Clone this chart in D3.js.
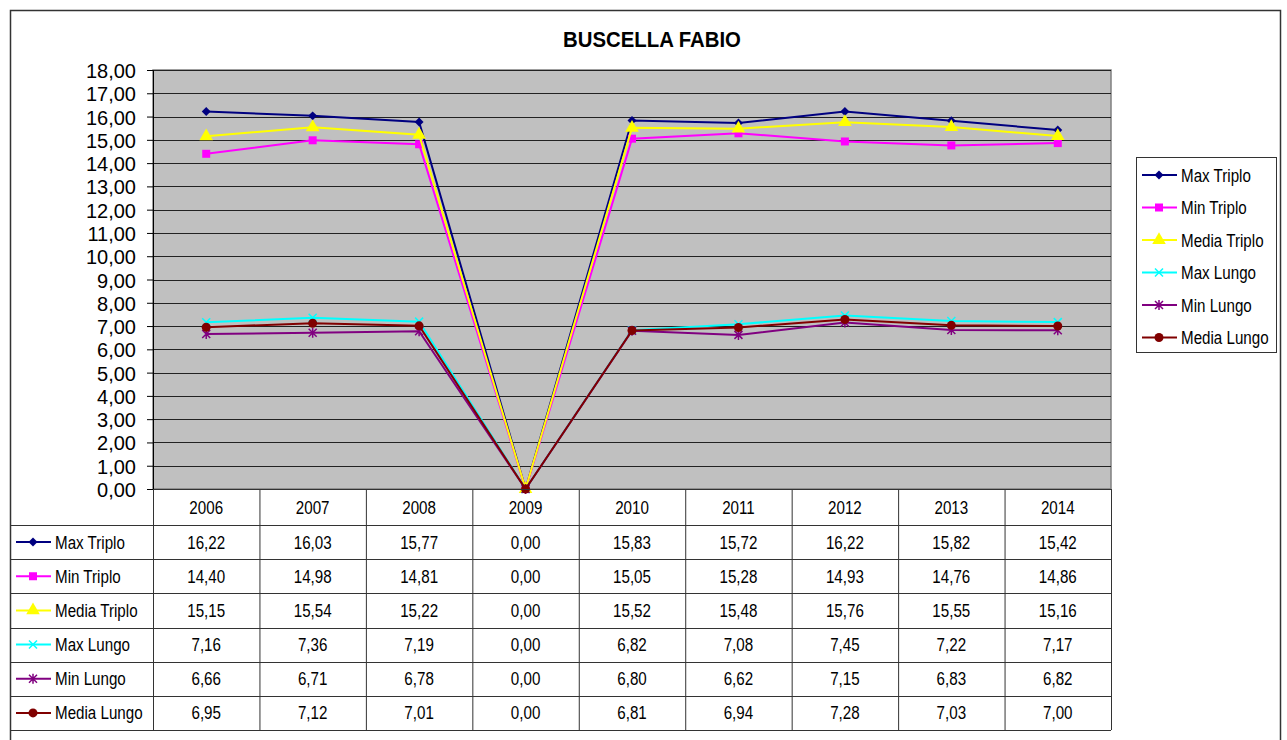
<!DOCTYPE html>
<html>
<head>
<meta charset="utf-8">
<script src="https://cdn.jsdelivr.net/npm/d3@7"></script>
<style>
  body { margin: 0; background: #fff; }
  text { font-family: "Liberation Sans", Arial, sans-serif; fill: #000; }
</style>
</head>
<body>
<div id="chart"></div>
<script>
const years = ["2006", "2007", "2008", "2009", "2010", "2011", "2012", "2013", "2014"];
const seriesNames = ["Max Triplo", "Min Triplo", "Media Triplo", "Max Lungo", "Min Lungo", "Media Lungo"];
const maxTriplo = [16.22, 16.03, 15.77, 0.00, 15.83, 15.72, 16.22, 15.82, 15.42];
const minTriplo = [14.40, 14.98, 14.81, 0.00, 15.05, 15.28, 14.93, 14.76, 14.86];
const mediaTriplo = [15.15, 15.54, 15.22, 0.00, 15.52, 15.48, 15.76, 15.55, 15.16];
const maxLungo = [7.16, 7.36, 7.19, 0.00, 6.82, 7.08, 7.45, 7.22, 7.17];
const minLungo = [6.66, 6.71, 6.78, 0.00, 6.80, 6.62, 7.15, 6.83, 6.82];
const mediaLungo = [6.95, 7.12, 7.01, 0.00, 6.81, 6.94, 7.28, 7.03, 7.00];
const yTicks = d3.range(0, 19, 1);

const colors = ["#000080", "#ff00ff", "#ffff00", "#00ffff", "#800080", "#800000"];
const markers = ["diamond", "square", "triangle", "x", "star", "circle"];
const series = seriesNames.map((name, i) => ({
  name,
  values: [maxTriplo, minTriplo, mediaTriplo, maxLungo, minLungo, mediaLungo][i],
  color: colors[i],
  marker: markers[i]
}));

const width = 1287, height = 740;
const plot = { left: 153, right: 1111, top: 70, bottom: 489 };
const tableBottom = 730;
const headerH = 36;
const rowH = (tableBottom - plot.bottom - headerH) / series.length;
const fmt = v => d3.format(".2f")(v).replace(".", ",");
const cellFont = 18.5, narrow = 0.82;

const svg = d3.select("#chart").append("svg")
  .attr("width", width).attr("height", height);

// text squeezed sideways, the source uses a narrow Arial
function label(parent, px, py, str, size, anchor, sx) {
  return parent.append("text")
    .attr("transform", `translate(${px},${py}) scale(${sx || narrow},1)`)
    .attr("text-anchor", anchor || "start")
    .attr("font-size", size)
    .text(str);
}

// outer frame
svg.append("rect")
  .attr("x", 10.5).attr("y", 10.5)
  .attr("width", 1270).attr("height", 740)
  .attr("fill", "#fff").attr("stroke", "#333").attr("stroke-width", 1.5);

label(svg, 652, 46.5, "BUSCELLA FABIO", 23, "middle", 0.885).attr("font-weight", "bold");

const x = d3.scaleBand().domain(years).range([plot.left, plot.right]);
const y = d3.scaleLinear().domain([0, 18]).range([plot.bottom, plot.top]);
const cx = yr => x(yr) + x.bandwidth() / 2;

svg.append("rect")
  .attr("x", plot.left).attr("y", plot.top)
  .attr("width", plot.right - plot.left).attr("height", plot.bottom - plot.top)
  .attr("fill", "#c0c0c0").attr("stroke", "#808080").attr("stroke-width", 1.5);

// gridlines
svg.append("g")
  .selectAll("line")
  .data(yTicks.slice(1))
  .join("line")
  .attr("x1", plot.left).attr("x2", plot.right)
  .attr("y1", d => Math.round(y(d)) + 0.5).attr("y2", d => Math.round(y(d)) + 0.5)
  .attr("stroke", "#222").attr("stroke-width", 1);

// y axis
const yAxis = svg.append("g")
  .attr("transform", `translate(${plot.left},0)`)
  .call(d3.axisLeft(y).tickValues(yTicks).tickFormat(fmt).tickSize(6).tickPadding(11));
yAxis.selectAll("text")
  .attr("dy", null).attr("y", 7.5)
  .attr("font-size", 20)
  .attr("font-family", "Liberation Sans, Arial, sans-serif").attr("fill", "#000");
yAxis.selectAll("line").attr("stroke", "#000");
yAxis.select(".domain").attr("stroke", "#000");

// marker drawing
function drawMarker(g, type, color) {
  if (type === "diamond") {
    g.append("path").attr("d", d3.symbol(d3.symbolSquare, 40)()).attr("fill", color).attr("transform", "rotate(45)");
  } else if (type === "square") {
    g.append("path").attr("d", d3.symbol(d3.symbolSquare, 64)()).attr("fill", color);
  } else if (type === "triangle") {
    g.append("path").attr("d", d3.symbol(d3.symbolTriangle, 80)()).attr("fill", color);
  } else if (type === "x") {
    g.append("path").attr("d", "M-4,-4L4,4M-4,4L4,-4").attr("stroke", color).attr("stroke-width", 1.5).attr("fill", "none");
  } else if (type === "star") {
    g.append("path").attr("d", "M-4,-4L4,4M-4,4L4,-4M0,-5L0,5").attr("stroke", color).attr("stroke-width", 1.5).attr("fill", "none");
  } else if (type === "circle") {
    g.append("circle").attr("r", 4.5).attr("fill", color);
  }
}

const line = d3.line()
  .x((d, i) => cx(years[i]))
  .y(d => y(d));

series.forEach(s => {
  svg.append("path")
    .attr("d", line(s.values))
    .attr("fill", "none").attr("stroke", s.color).attr("stroke-width", 2);
  s.values.forEach((v, i) => {
    const g = svg.append("g")
      .attr("transform", `translate(${cx(years[i])},${y(v)})`);
    drawMarker(g, s.marker, s.color);
  });
});

// data table
const table = svg.append("g");
const gridColor = "#333";
table.selectAll("line.v")
  .data(years.concat(["end"]))
  .join("line")
  .attr("class", "v")
  .attr("x1", (d, i) => i < years.length ? x(d) + 0.5 : plot.right + 0.5)
  .attr("x2", (d, i) => i < years.length ? x(d) + 0.5 : plot.right + 0.5)
  .attr("y1", plot.bottom).attr("y2", tableBottom)
  .attr("stroke", gridColor);
const rowLines = d3.range(series.length + 1).map(i => plot.bottom + headerH + i * rowH);
table.selectAll("line.h")
  .data(rowLines)
  .join("line")
  .attr("class", "h")
  .attr("x1", 10).attr("x2", plot.right)
  .attr("y1", d => Math.round(d) + 0.5).attr("y2", d => Math.round(d) + 0.5)
  .attr("stroke", gridColor);
table.append("line")
  .attr("x1", plot.left).attr("x2", plot.right)
  .attr("y1", plot.bottom + 0.5).attr("y2", plot.bottom + 0.5)
  .attr("stroke", gridColor);

years.forEach(yr => label(table, cx(yr), plot.bottom + headerH / 2 + 6.5, yr, cellFont, "middle"));

series.forEach((s, r) => {
  const cy = plot.bottom + headerH + r * rowH + rowH / 2;
  const key = table.append("g").attr("transform", `translate(0,${cy})`);
  key.append("line").attr("x1", 16).attr("x2", 51).attr("stroke", s.color).attr("stroke-width", 2);
  drawMarker(key.append("g").attr("transform", "translate(33,0)"), s.marker, s.color);
  label(key, 55, 6.5, s.name, cellFont);
  s.values.forEach((v, i) => label(table, cx(years[i]), cy + 6.5, fmt(v), cellFont, "middle"));
});

// legend
const legend = svg.append("g");
legend.append("rect")
  .attr("x", 1136.5).attr("y", 157.5).attr("width", 140).attr("height", 195)
  .attr("fill", "#fff").attr("stroke", "#333");
series.forEach((s, i) => {
  const ly = 175 + i * 32.5;
  const g = legend.append("g").attr("transform", `translate(0,${ly})`);
  g.append("line").attr("x1", 1142).attr("x2", 1177).attr("stroke", s.color).attr("stroke-width", 2);
  drawMarker(g.append("g").attr("transform", "translate(1159,0)"), s.marker, s.color);
  label(g, 1181, 6.5, s.name, cellFont);
});
</script>
</body>
</html>
